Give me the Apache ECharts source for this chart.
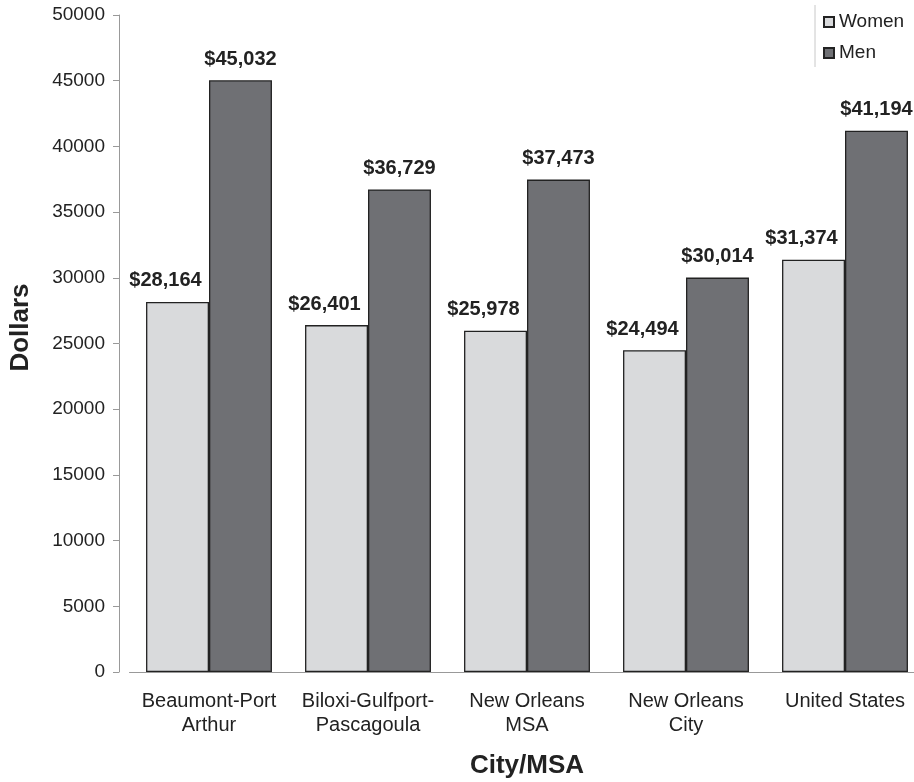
<!DOCTYPE html>
<html>
<head>
<meta charset="utf-8">
<script src="https://cdn.jsdelivr.net/npm/echarts@6/dist/echarts.min.js"></script>
<style>
html,body{margin:0;padding:0;background:#fff;}
#chart{width:914px;height:782px;}
</style>
</head>
<body>
<div id="chart"></div>
<script>
const categories = ['Beaumont-Port\nArthur', 'Biloxi-Gulfport-\nPascagoula', 'New Orleans\nMSA', 'New Orleans\nCity', 'United States'];
const women = [28164, 26401, 25978, 24494, 31374];
const men = [45032, 36729, 37473, 30014, 41194];
const yTicks = { min: 0, max: 50000, interval: 5000 };

const fmt = v => '$' + v.toLocaleString('en-US');
const FONT = '"Liberation Sans", Arial, Helvetica, sans-serif';

const chart = echarts.init(document.getElementById('chart'), null, { renderer: 'canvas' });
chart.setOption({
  backgroundColor: '#fff',
  animation: false,
  textStyle: { fontFamily: FONT },
  grid: { left: 129.5, width: 795, top: 15, height: 657, containLabel: false, outerBoundsMode: 'none' },
  legend: {
    orient: 'vertical',
    left: 823,
    top: 12,
    padding: 0,
    itemWidth: 10,
    itemHeight: 10,
    itemGap: 11,
    icon: 'rect',
    textStyle: { fontSize: 19, color: '#222', fontFamily: FONT, lineHeight: 20 },
    data: ['Women', 'Men']
  },
  graphic: [{
    type: 'line',
    shape: { x1: 815, y1: 5, x2: 815, y2: 67 },
    style: { stroke: '#c8c8c8', lineWidth: 1 }
  }],
  xAxis: {
    type: 'category',
    data: categories,
    name: 'City/MSA',
    nameLocation: 'middle',
    nameGap: 81,
    nameTextStyle: { fontSize: 26, fontWeight: 'bold', color: '#222', fontFamily: FONT },
    axisLine: { lineStyle: { color: '#999', width: 1 } },
    axisTick: { show: false },
    axisLabel: { fontSize: 20, color: '#222', margin: 17, lineHeight: 24, interval: 0, fontFamily: FONT }
  },
  yAxis: {
    type: 'value',
    min: yTicks.min,
    max: yTicks.max,
    interval: yTicks.interval,
    offset: 10.5,
    name: 'Dollars',
    nameLocation: 'middle',
    nameGap: 85,
    nameRotate: 90,
    nameTextStyle: { fontSize: 26, fontWeight: 'bold', color: '#222', fontFamily: FONT, padding: [0, 0, 0, 32] },
    axisLine: { show: true, lineStyle: { color: '#999', width: 1 } },
    axisTick: { show: true, length: 6, lineStyle: { color: '#999' } },
    splitLine: { show: false },
    axisLabel: { fontSize: 19, color: '#222', margin: 14, fontFamily: FONT, formatter: v => String(v) }
  },
  series: [
    {
      name: 'Women',
      type: 'bar',
      data: women,
      barGap: '0%',
      barCategoryGap: '20.8%',
      itemStyle: { color: '#d9dadc', borderColor: '#222', borderWidth: 1.3 },
      label: {
        show: true, position: 'top', distance: 11, offset: [-12, 0],
        formatter: p => fmt(p.value),
        fontSize: 20, fontWeight: 'bold', color: '#222', fontFamily: FONT
      }
    },
    {
      name: 'Men',
      type: 'bar',
      data: men,
      barGap: '0%',
      barCategoryGap: '20.8%',
      itemStyle: { color: '#6f7074', borderColor: '#222', borderWidth: 1.3 },
      label: {
        show: true, position: 'top', distance: 11,
        formatter: p => fmt(p.value),
        fontSize: 20, fontWeight: 'bold', color: '#222', fontFamily: FONT
      }
    }
  ]
});
</script>
</body>
</html>
